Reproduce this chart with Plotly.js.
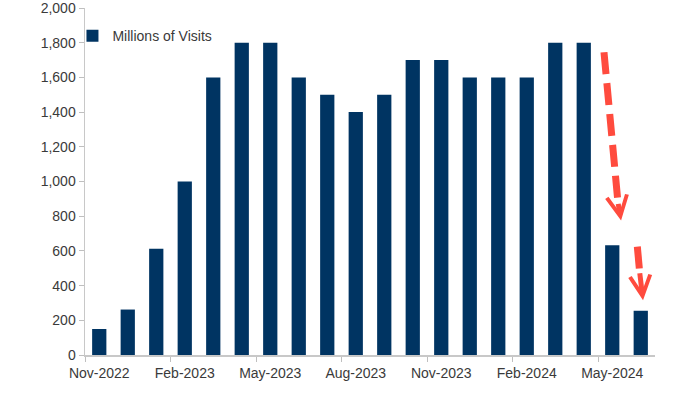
<!DOCTYPE html>
<html>
<head>
<meta charset="utf-8">
<script src="https://cdn.plot.ly/plotly-3.0.1.min.js"></script>
<style>html,body{margin:0;padding:0;background:#fff;}#chart{width:700px;height:394px;}</style>
</head>
<body>
<div id="chart"></div>
<script>
const months = ["Nov-2022","Dec-2022","Jan-2023","Feb-2023","Mar-2023","Apr-2023","May-2023","Jun-2023","Jul-2023","Aug-2023","Sep-2023","Oct-2023","Nov-2023","Dec-2023","Jan-2024","Feb-2024","Mar-2024","Apr-2024","May-2024","Jun-2024"];
const visits = [150, 262, 612, 1000, 1600, 1800, 1800, 1600, 1500, 1400, 1500, 1700, 1700, 1600, 1600, 1600, 1800, 1800, 632, 255];
const seriesName = "Millions of Visits";

// decorative arrows (category index, value)
const arrow1 = {x0: 17.71, y0: 1745, x1: 18.2, y1: 880, tipX: 18.31, tipY: 775};
const arrow2 = {x0: 18.88, y0: 625, x1: 18.96, y1: 480, tipX: 19.08, tipY: 315};

const red = "#FF4B3E";
const navy = "#003462";
const tickFont = {family: "Liberation Sans, Arial, sans-serif", size: 14, color: "#3a3a3a"};

const trace = {
  type: "bar",
  x: months,
  y: visits,
  name: seriesName,
  marker: {color: navy},
  width: 0.5,
  showlegend: true
};

function shaft(a) {
  return {type: "line", xref: "x", yref: "y", x0: a.x0, y0: a.y0, x1: a.x1, y1: a.y1,
    line: {color: red, width: 7, dash: "22px,9px"}};
}
function head(a) {
  return {xref: "x", yref: "y", axref: "x", ayref: "y", x: a.tipX, y: a.tipY, ax: a.x1, ay: a.y1,
    text: "", showarrow: true, arrowhead: 5, arrowsize: 0.8, arrowwidth: 5, arrowcolor: red};
}

const layout = {
  width: 700, height: 394,
  margin: {l: 85, r: 45, t: 8, b: 39},
  paper_bgcolor: "#fff", plot_bgcolor: "#fff",
  font: tickFont,
  bargap: 0.5,
  xaxis: {
    type: "category",
    range: [-0.5, 19.5],
    dtick: 3,
    tickson: "boundaries",
    tickangle: 0,
    ticks: "outside", ticklen: 5, tickcolor: "#bfbfbf", tickwidth: 1,
    ticklabelstandoff: 5,
    showline: true, linecolor: "#c8c8c8", linewidth: 1.5,
    showgrid: false, zeroline: false,
    tickfont: tickFont,
    ticklabeloverflow: "allow",
    fixedrange: true
  },
  yaxis: {
    range: [0, 2000],
    dtick: 200,
    tickformat: ",d",
    ticks: "outside", ticklen: 5, tickcolor: "#bfbfbf", tickwidth: 1,
    showline: true, linecolor: "#c8c8c8", linewidth: 1.5,
    showgrid: false, zeroline: false,
    tickfont: tickFont,
    ticklabeloverflow: "allow",
    fixedrange: true
  },
  showlegend: true,
  legend: {
    x: -0.022, y: 0.965, xanchor: "left", yanchor: "top",
    bgcolor: "rgba(0,0,0,0)",
    font: {family: "Liberation Sans, Arial, sans-serif", size: 14, color: "#3a3a3a"}
  },
  shapes: [shaft(arrow1), shaft(arrow2)],
  annotations: [head(arrow1), head(arrow2)]
};

Plotly.newPlot("chart", [trace], layout, {displayModeBar: false, staticPlot: true});
</script>
</body>
</html>
